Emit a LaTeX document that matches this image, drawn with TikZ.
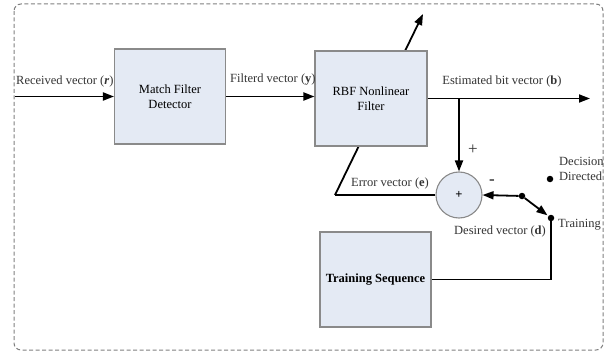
\documentclass[tikz,border=0pt]{standalone}
\usepackage{fontspec}
\setmainfont{Liberation Serif}
\usetikzlibrary{arrows.meta,backgrounds}
\definecolor{boxfill}{HTML}{E4EAF4}
\definecolor{boxline}{HTML}{8A8A8A}
\definecolor{labeltext}{HTML}{333333}
\tikzset{
  blockbox/.style={draw=boxline,line width=1.1pt,fill=boxfill,minimum width=#1,
    minimum height=95pt,align=center,inner sep=0pt},
  sumnode/.style={circle,draw=boxline,line width=1.1pt,fill=boxfill,minimum size=46pt,inner sep=0pt},
  swdot/.style={circle,fill=black,minimum size=6.5pt,inner sep=0pt},
  flow/.style={line width=1.8pt,-{Triangle[length=11pt,width=8pt]}},
  wire/.style={line width=1.8pt},
  lbl/.style={text=labeltext,inner sep=1pt},
  signlbl/.style={text=labeltext,inner sep=0pt,font=\fontsize{17}{17}\selectfont}
}
\begin{document}
\begin{tikzpicture}[x=1pt,y=-1pt,every node/.style={font=\fontsize{12.5}{15}\selectfont}]
    \useasboundingbox (0,0) rectangle (606,353);
    \draw[gray,line width=1pt,dash pattern=on 4pt off 2.5pt,rounded corners=7pt] (14,4) rectangle (603,350);

    % blocks
    \node[blockbox=111pt] (mfd) at (170,96.5) {Match Filter\\Detector};
    \node[blockbox=112pt] (rbf) at (371,98.5) {RBF Nonlinear\\Filter};
    \node[blockbox=111pt] (tseq) at (375.5,279.5) {\textbf{Training Sequence}};
    \node[sumnode] (sum) at (459,195) {\textbf{+}};

    % switch
    \node[swdot] (pivot) at (522,196) {};
    \node[swdot] (dd) at (550,179) {};
    \node[swdot] (tr) at (551,218) {};

    \coordinate (in) at (15,96.5);
    \coordinate (out) at (590,98.5);
    \coordinate (branch) at (459,98.5);
    \coordinate (adjs) at (335,193);
    \coordinate (adje) at (423,14);

    % adaptation line through the RBF filter
    \begin{pgfonlayer}{background}
        \draw[flow] (sum.west -| adjs) -- (adje);
    \end{pgfonlayer}
    \draw[wire] (sum.west) -- (sum.west -| adjs);

    \draw[flow] (in) -- (mfd.west);
    \draw[flow] (mfd.east) -- (mfd.east -| rbf.west);
    \draw[flow] (rbf.east) -- (out);
    \draw[flow] (branch) -- (sum.north);
    \draw[flow] (pivot) -- (sum.east);
    \draw[flow,shorten >=1pt] (pivot) -- (tr);
    \draw[wire] (tr) |- (tseq.east);

    % labels
    \node[lbl,anchor=west] (lr) at (15,81) {Received vector (\textbf{\textit{r}})};
    \node[lbl,anchor=west] (ly) at (229,80) {Filterd vector (\textbf{y})};
    \node[lbl] (lb) at (502,81) {Estimated bit vector (\textbf{b})};
    \node[lbl] (le) at (390,183) {Error vector (\textbf{e})};
    \node[lbl] (ld) at (500,231) {Desired vector (\textbf{d})};
    \node[signlbl] (lp) at (473,150) {+};
    \node[signlbl] (lm) at (492,182) {\textbf{-}};
    \node[lbl,anchor=west,align=left] (ldd) at (558,169) {Decision\\Directed};
    \node[lbl,anchor=west] (ltr) at (557,225) {Training};
\end{tikzpicture}
\end{document}
